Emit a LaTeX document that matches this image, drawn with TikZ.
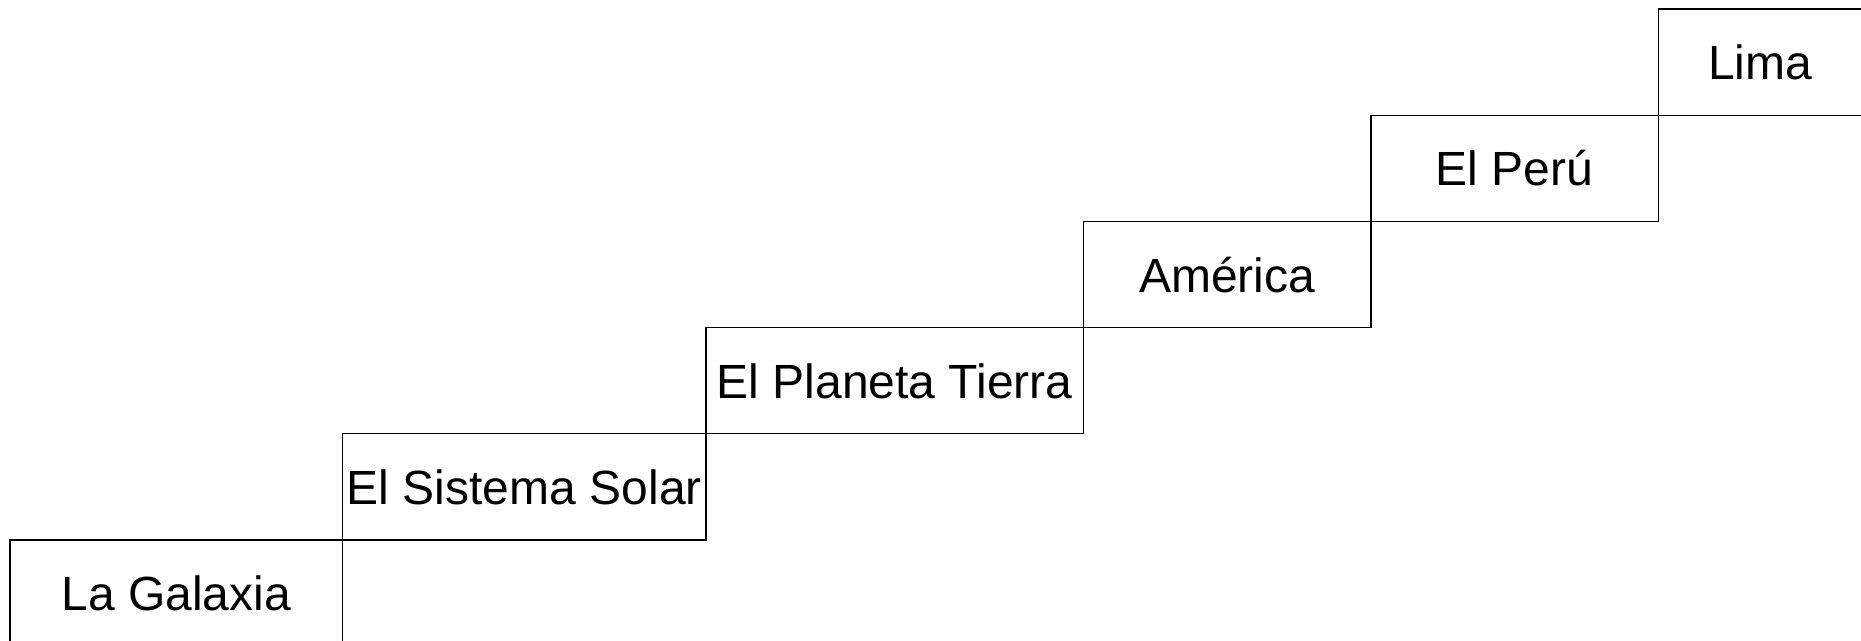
\documentclass[tikz,border=0pt]{standalone}
\usepackage{fontspec}
\setmainfont{Liberation Sans}
\begin{document}
\begin{tikzpicture}[x=1pt,y=-1pt,
  stepbox/.style={draw=black,line width=1.3pt,rectangle,inner sep=0pt,
    minimum height=106.2pt,text height=35pt,text depth=0pt,
    font=\fontsize{48}{56}\selectfont}]
\useasboundingbox (0,0) rectangle (1861,640);
\clip (0,0) rectangle (1861,640);
\node[stepbox,minimum width=332.7pt] (galaxia) at (176.35,593.1) {La Galaxia};
\node[stepbox,minimum width=363.3pt] (sistema) at (524.35,486.9) {El Sistema Solar};
\node[stepbox,minimum width=377.3pt] (planeta) at (894.65,380.7) {El Planeta Tierra};
\node[stepbox,minimum width=287.7pt] (america) at (1227.15,274.5) {América};
\node[stepbox,minimum width=287.3pt] (peru) at (1514.65,168.3) {El Perú};
\node[stepbox,minimum width=204pt] (lima) at (1760.3,62.1) {Lima};
\end{tikzpicture}
\end{document}
